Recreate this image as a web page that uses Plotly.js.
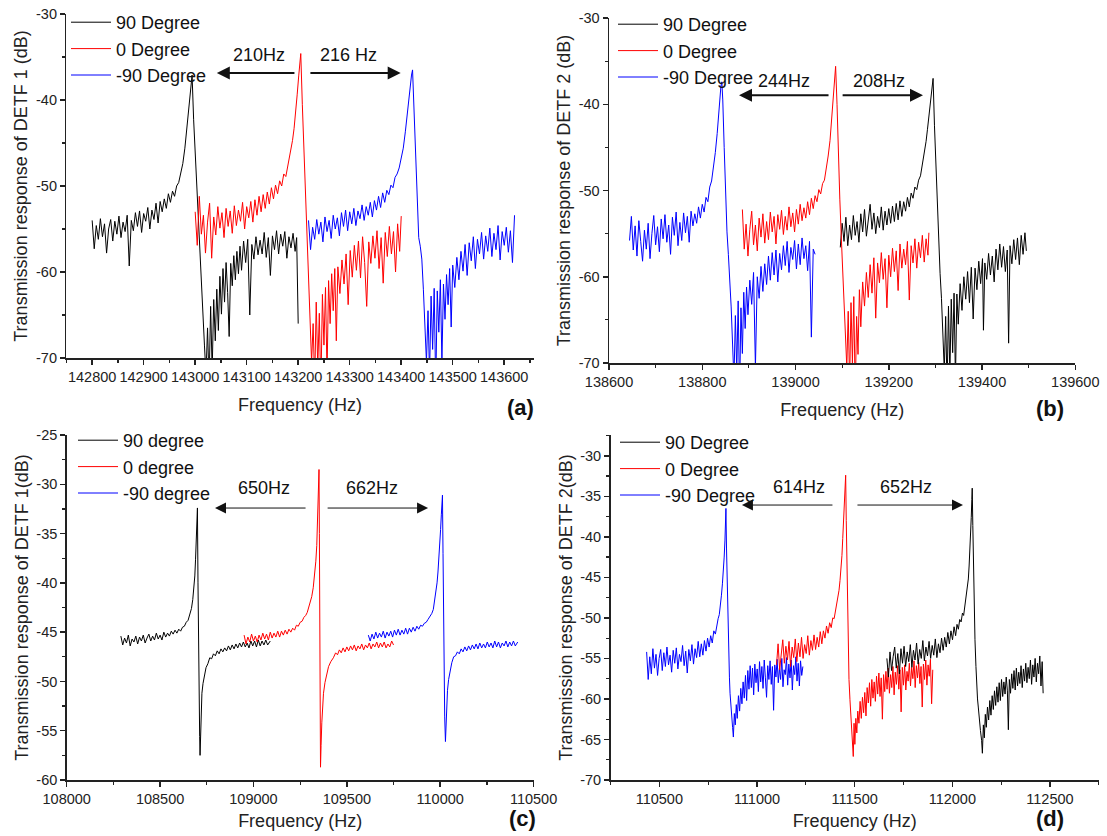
<!DOCTYPE html>
<html><head><meta charset="utf-8">
<script src="https://cdn.plot.ly/plotly-3.0.1.min.js"></script>
<style>html,body{margin:0;padding:0;background:#fff}#chart{width:1107px;height:836px}</style>
</head><body><div id="chart"></div>
<script>
// ---------- Panel (a): DETF 1, [frequency Hz, response dB] ----------
const a_p90 = [[142800,-54.0],[142804,-57.3],[142808,-54.6],[142812,-56.2],[142816,-53.8],[142820,-55.9],[142824,-54.4],[142828,-57.8],[142832,-55.0],[142836,-53.9],[142840,-56.4],[142844,-54.1],[142848,-55.6],[142852,-53.5],[142856,-56.0],[142860,-54.2],[142864,-55.3],[142868,-53.4],[142872,-59.3],[142876,-54.0],[142880,-55.2],[142884,-53.1],[142888,-54.7],[142892,-52.9],[142896,-55.4],[142900,-53.2],[142904,-54.1],[142908,-52.5],[142912,-55.0],[142916,-52.8],[142920,-53.9],[142924,-52.0],[142928,-54.3],[142932,-51.8],[142936,-53.0],[142940,-51.5],[142944,-52.6],[142948,-50.9],[142952,-51.9],[142956,-50.6],[142960,-51.2],[142964,-50.0],[142968,-49.6],[142972,-48.5],[142976,-47.4],[142980,-45.6],[142984,-43.3],[142987,-41.6],[142990,-39.6],[142992,-38.2],[142994,-37.1],[142997,-42.3],[143000,-46.3],[143003,-50.2],[143006,-54.0],[143009,-57.5],[143012,-61.0],[143015,-64.8],[143018,-68.5],[143021,-72.0],[143024,-66.5],[143027,-73.0],[143030,-64.0],[143033,-71.5],[143036,-63.2],[143039,-68.0],[143042,-62.0],[143045,-66.8],[143048,-60.5],[143051,-64.9],[143054,-59.6],[143057,-63.5],[143060,-58.9],[143063,-62.4],[143066,-67.5],[143069,-59.0],[143072,-61.6],[143075,-58.1],[143078,-60.9],[143081,-57.6],[143084,-60.2],[143087,-57.0],[143090,-59.8],[143094,-56.4],[143098,-58.9],[143102,-56.2],[143106,-65.0],[143110,-56.8],[143114,-58.5],[143118,-55.9],[143122,-58.0],[143126,-56.3],[143130,-57.9],[143134,-55.4],[143138,-58.3],[143142,-56.0],[143146,-60.4],[143150,-55.8],[143154,-57.4],[143158,-55.2],[143162,-57.9],[143166,-55.6],[143170,-57.0],[143174,-55.3],[143178,-58.4],[143182,-55.9],[143186,-57.2],[143190,-55.5],[143194,-57.6],[143197,-56.0],[143200,-66.0]];
const a_p0 = [[143000,-53.0],[143004,-56.9],[143008,-51.2],[143012,-55.6],[143016,-53.4],[143020,-57.8],[143024,-54.2],[143028,-52.0],[143032,-58.4],[143036,-53.6],[143040,-55.7],[143044,-52.4],[143048,-54.9],[143052,-53.1],[143056,-56.0],[143060,-52.6],[143064,-54.7],[143068,-52.9],[143072,-55.5],[143076,-52.3],[143080,-54.6],[143084,-52.8],[143088,-54.1],[143092,-51.9],[143096,-55.0],[143100,-52.4],[143104,-53.7],[143108,-51.8],[143112,-54.2],[143116,-51.6],[143120,-53.4],[143124,-51.2],[143128,-53.0],[143132,-51.0],[143136,-52.6],[143140,-50.7],[143144,-52.1],[143148,-50.2],[143152,-51.5],[143156,-49.9],[143160,-50.9],[143164,-49.4],[143168,-50.0],[143172,-48.6],[143176,-48.9],[143180,-47.6],[143183,-46.8],[143186,-45.6],[143189,-44.7],[143192,-43.3],[143195,-41.6],[143198,-39.4],[143201,-37.2],[143203,-35.7],[143205,-34.6],[143208,-40.5],[143211,-45.6],[143214,-50.6],[143217,-55.6],[143220,-60.5],[143223,-65.0],[143226,-70.5],[143229,-66.0],[143232,-73.0],[143235,-63.5],[143238,-71.0],[143241,-64.8],[143244,-74.0],[143247,-62.6],[143250,-68.5],[143253,-61.8],[143256,-72.0],[143259,-61.0],[143262,-66.0],[143265,-60.2],[143268,-64.5],[143271,-59.6],[143274,-68.0],[143277,-59.4],[143281,-62.5],[143285,-58.6],[143289,-61.4],[143293,-57.9],[143297,-63.8],[143301,-57.5],[143305,-60.6],[143309,-56.9],[143313,-59.8],[143317,-56.4],[143321,-60.7],[143325,-55.9],[143329,-58.9],[143333,-64.0],[143337,-56.5],[143341,-59.0],[143345,-55.8],[143349,-58.4],[143353,-55.2],[143357,-59.6],[143361,-56.0],[143365,-61.3],[143369,-55.4],[143373,-58.2],[143377,-54.7],[143381,-57.9],[143385,-55.3],[143389,-60.0],[143393,-54.4],[143397,-57.6],[143400,-53.5]];
const a_pm90 = [[143220,-54.0],[143224,-57.4],[143228,-54.8],[143232,-56.2],[143236,-53.9],[143240,-55.6],[143244,-54.2],[143248,-56.5],[143252,-53.6],[143256,-55.3],[143260,-54.0],[143264,-56.1],[143268,-53.4],[143272,-55.0],[143276,-53.7],[143280,-55.8],[143284,-53.1],[143288,-54.7],[143292,-52.8],[143296,-55.2],[143300,-53.0],[143304,-54.4],[143308,-52.6],[143312,-54.6],[143316,-52.9],[143320,-53.8],[143324,-52.2],[143328,-54.0],[143332,-52.4],[143336,-53.4],[143340,-51.9],[143344,-53.6],[143348,-51.7],[143352,-52.8],[143356,-51.2],[143360,-52.5],[143364,-50.8],[143368,-51.9],[143372,-50.5],[143376,-51.0],[143380,-49.9],[143384,-50.2],[143388,-49.0],[143392,-48.6],[143396,-47.9],[143400,-46.9],[143404,-45.6],[143408,-43.7],[143411,-42.0],[143414,-40.3],[143417,-38.5],[143420,-37.1],[143422,-36.5],[143425,-41.0],[143428,-46.2],[143431,-51.5],[143434,-56.0],[143437,-57.0],[143440,-58.5],[143443,-62.0],[143446,-66.0],[143449,-70.5],[143452,-64.5],[143455,-72.0],[143458,-62.8],[143461,-69.0],[143464,-61.9],[143467,-73.5],[143470,-62.2],[143473,-67.0],[143476,-60.9],[143479,-70.5],[143482,-61.4],[143485,-65.5],[143488,-60.3],[143491,-63.8],[143494,-59.6],[143497,-66.4],[143500,-59.2],[143504,-61.8],[143508,-58.3],[143512,-60.9],[143516,-57.6],[143520,-59.9],[143524,-56.8],[143528,-60.4],[143532,-56.6],[143536,-58.7],[143540,-55.9],[143544,-59.6],[143548,-56.2],[143552,-57.9],[143556,-55.4],[143560,-58.5],[143564,-55.8],[143568,-57.6],[143572,-54.9],[143576,-58.2],[143580,-55.5],[143584,-57.4],[143588,-54.6],[143592,-58.6],[143596,-55.3],[143600,-56.9],[143604,-54.8],[143608,-57.7],[143612,-55.2],[143616,-58.9],[143620,-53.4]];

// ---------- Panel (b): DETF 2 ----------
const b_p90 = [[139096,-56.6],[139100,-53.8],[139104,-55.9],[139108,-53.1],[139112,-56.4],[139116,-54.0],[139120,-55.7],[139124,-52.9],[139128,-55.2],[139132,-53.6],[139136,-56.0],[139140,-52.7],[139144,-54.8],[139148,-52.2],[139152,-55.3],[139156,-53.4],[139160,-51.6],[139164,-54.5],[139168,-52.6],[139172,-55.0],[139176,-53.0],[139180,-54.3],[139184,-51.9],[139188,-54.6],[139192,-52.4],[139196,-54.0],[139200,-52.1],[139204,-53.8],[139208,-51.8],[139212,-53.6],[139216,-51.5],[139220,-53.4],[139224,-51.2],[139228,-53.0],[139232,-51.3],[139236,-52.4],[139240,-50.8],[139244,-51.9],[139248,-50.3],[139252,-50.9],[139256,-49.6],[139260,-49.9],[139264,-48.8],[139268,-48.3],[139272,-47.0],[139276,-45.8],[139280,-44.3],[139283,-42.9],[139286,-41.4],[139289,-40.1],[139291,-38.9],[139293,-37.8],[139295,-37.0],[139298,-42.5],[139301,-47.2],[139304,-52.4],[139307,-56.0],[139310,-59.6],[139313,-62.5],[139316,-66.2],[139319,-70.8],[139322,-64.6],[139325,-73.0],[139328,-63.4],[139331,-71.5],[139334,-62.6],[139337,-68.8],[139340,-61.9],[139343,-72.0],[139346,-62.0],[139349,-65.5],[139353,-60.8],[139357,-63.9],[139361,-60.0],[139365,-62.6],[139369,-59.4],[139373,-63.0],[139377,-58.9],[139381,-64.9],[139385,-59.0],[139389,-61.5],[139393,-58.2],[139397,-60.8],[139401,-57.9],[139403,-66.2],[139406,-58.4],[139410,-60.3],[139414,-57.3],[139418,-59.8],[139422,-57.6],[139426,-60.6],[139430,-56.8],[139434,-59.2],[139438,-56.2],[139442,-58.9],[139446,-56.5],[139450,-59.4],[139454,-56.9],[139457,-67.7],[139460,-56.4],[139464,-58.5],[139468,-55.7],[139472,-58.0],[139476,-55.5],[139480,-58.6],[139484,-55.2],[139488,-57.4],[139492,-54.9],[139495,-57.0]];
const b_p0 = [[138886,-52.2],[138890,-56.8],[138894,-53.9],[138898,-57.6],[138902,-54.5],[138906,-52.4],[138910,-56.3],[138914,-54.0],[138918,-57.0],[138922,-53.2],[138926,-55.4],[138930,-52.7],[138934,-56.1],[138938,-53.6],[138942,-55.7],[138946,-52.5],[138950,-54.8],[138954,-53.0],[138958,-56.2],[138962,-52.8],[138966,-54.5],[138970,-52.3],[138974,-55.1],[138978,-53.0],[138982,-54.6],[138986,-51.9],[138990,-54.2],[138994,-52.6],[138998,-54.8],[139002,-52.2],[139006,-53.9],[139010,-51.6],[139014,-53.5],[139018,-52.0],[139022,-53.2],[139026,-51.3],[139030,-52.8],[139034,-50.9],[139038,-52.1],[139042,-50.6],[139046,-51.3],[139050,-49.9],[139054,-50.4],[139058,-49.2],[139062,-48.8],[139066,-47.6],[139070,-46.0],[139074,-44.2],[139077,-41.8],[139080,-39.7],[139082,-38.0],[139084,-36.6],[139086,-35.6],[139089,-40.0],[139092,-46.4],[139095,-51.0],[139098,-55.2],[139101,-59.2],[139104,-62.6],[139107,-66.3],[139110,-70.5],[139113,-64.0],[139116,-72.5],[139119,-63.0],[139122,-70.0],[139125,-62.3],[139128,-74.0],[139131,-64.6],[139134,-69.0],[139137,-61.5],[139140,-65.8],[139144,-60.6],[139148,-63.4],[139152,-59.5],[139156,-62.4],[139160,-58.6],[139164,-61.9],[139168,-57.8],[139172,-64.8],[139176,-58.4],[139180,-60.7],[139184,-57.2],[139188,-60.3],[139192,-57.9],[139196,-63.6],[139200,-57.5],[139204,-60.0],[139208,-56.7],[139212,-59.4],[139216,-57.0],[139220,-61.6],[139224,-56.2],[139228,-59.0],[139232,-56.8],[139236,-58.6],[139240,-55.9],[139244,-62.7],[139248,-56.4],[139252,-58.4],[139256,-55.6],[139260,-59.0],[139264,-56.0],[139268,-57.8],[139272,-55.2],[139276,-58.3],[139280,-55.6],[139284,-57.5],[139286,-54.9]];
const b_pm90 = [[138644,-55.8],[138648,-53.0],[138652,-56.9],[138656,-54.1],[138660,-57.6],[138664,-53.5],[138668,-55.9],[138672,-58.2],[138676,-54.6],[138680,-56.8],[138684,-53.8],[138688,-57.9],[138692,-55.0],[138696,-52.9],[138700,-56.3],[138704,-54.2],[138708,-57.1],[138712,-53.3],[138716,-55.6],[138720,-52.8],[138724,-56.0],[138728,-54.0],[138732,-57.4],[138736,-53.1],[138740,-55.2],[138744,-52.5],[138748,-56.4],[138752,-53.7],[138756,-55.8],[138760,-52.6],[138764,-54.9],[138768,-53.0],[138772,-56.0],[138776,-52.4],[138780,-54.1],[138784,-52.7],[138788,-53.8],[138792,-51.9],[138796,-53.2],[138800,-51.6],[138804,-52.5],[138808,-50.8],[138812,-51.3],[138816,-49.6],[138820,-48.9],[138824,-47.4],[138828,-45.6],[138832,-43.4],[138835,-41.2],[138838,-38.9],[138840,-37.9],[138842,-37.4],[138844,-39.5],[138847,-45.0],[138850,-50.6],[138853,-54.8],[138856,-57.4],[138859,-60.2],[138862,-63.5],[138865,-67.8],[138868,-72.0],[138871,-64.5],[138874,-71.0],[138877,-62.8],[138880,-74.0],[138883,-63.6],[138886,-68.9],[138889,-61.8],[138892,-66.0],[138895,-61.2],[138898,-64.4],[138902,-60.4],[138906,-63.2],[138910,-59.5],[138914,-70.5],[138918,-60.0],[138922,-62.5],[138926,-58.8],[138930,-61.7],[138934,-58.5],[138938,-60.9],[138942,-57.6],[138946,-60.4],[138950,-57.2],[138954,-59.8],[138958,-56.9],[138962,-60.6],[138966,-57.3],[138970,-59.2],[138974,-56.4],[138978,-58.7],[138982,-55.9],[138986,-59.5],[138990,-56.6],[138994,-58.0],[138998,-55.8],[139002,-59.1],[139006,-56.2],[139010,-58.6],[139014,-55.5],[139018,-57.9],[139022,-56.4],[139026,-59.3],[139030,-55.9],[139034,-67.0],[139038,-56.8],[139042,-57.4]];

// ---------- Panel (c): DETF 1 ----------
const c_p90 = [[108290,-45.4],[108300,-46.3],[108310,-45.6],[108320,-46.1],[108330,-45.3],[108340,-46.4],[108350,-45.7],[108360,-46.0],[108370,-45.4],[108380,-46.2],[108390,-45.5],[108400,-45.9],[108410,-45.3],[108420,-46.1],[108430,-45.6],[108440,-45.2],[108450,-45.9],[108460,-45.4],[108470,-45.8],[108480,-45.1],[108490,-45.7],[108500,-45.3],[108510,-45.8],[108520,-45.0],[108530,-45.5],[108540,-45.1],[108550,-45.4],[108560,-44.9],[108570,-45.2],[108580,-44.8],[108590,-45.1],[108600,-44.7],[108610,-44.9],[108620,-44.5],[108630,-44.4],[108640,-44.0],[108650,-43.8],[108660,-43.2],[108668,-42.6],[108675,-41.7],[108681,-40.6],[108686,-39.3],[108690,-37.6],[108694,-35.7],[108697,-34.0],[108700,-32.4],[108703,-40.0],[108706,-47.5],[108709,-52.5],[108712,-55.6],[108714,-57.5],[108717,-55.5],[108720,-52.6],[108724,-51.2],[108730,-50.2],[108738,-49.3],[108746,-48.6],[108756,-48.2],[108766,-47.6],[108776,-47.7],[108786,-47.2],[108796,-47.4],[108806,-46.9],[108816,-47.2],[108826,-46.7],[108836,-47.0],[108846,-46.6],[108856,-46.9],[108866,-46.4],[108876,-46.8],[108886,-46.3],[108896,-46.7],[108906,-46.2],[108916,-46.6],[108926,-46.1],[108936,-46.5],[108946,-46.0],[108956,-46.5],[108966,-46.1],[108976,-46.6],[108986,-45.9],[108996,-46.4],[109006,-45.9],[109016,-46.5],[109026,-45.8],[109036,-46.4],[109046,-45.9],[109056,-46.3],[109066,-45.8],[109076,-46.3],[109090,-45.9]];
const c_p0 = [[108950,-45.3],[108960,-46.2],[108970,-45.5],[108980,-46.0],[108990,-45.2],[109000,-45.9],[109010,-45.4],[109020,-46.0],[109030,-45.3],[109040,-45.8],[109050,-45.1],[109060,-45.7],[109070,-45.2],[109080,-45.8],[109090,-45.0],[109100,-45.6],[109110,-45.1],[109120,-45.5],[109130,-44.9],[109140,-45.5],[109150,-44.9],[109160,-45.3],[109170,-44.8],[109180,-45.2],[109190,-44.7],[109200,-45.0],[109210,-44.6],[109220,-44.8],[109230,-44.3],[109240,-44.4],[109250,-44.0],[109260,-43.9],[109270,-43.5],[109280,-43.3],[109288,-43.0],[109296,-42.5],[109304,-42.0],[109312,-41.4],[109320,-40.5],[109328,-39.3],[109334,-37.8],[109339,-36.2],[109343,-34.2],[109346,-32.3],[109349,-30.2],[109351,-28.5],[109353,-35.0],[109355,-42.0],[109357,-50.0],[109359,-58.7],[109362,-56.5],[109366,-54.2],[109370,-52.5],[109375,-51.2],[109383,-50.1],[109392,-49.2],[109402,-48.5],[109414,-48.0],[109428,-47.6],[109440,-47.1],[109450,-47.3],[109460,-46.8],[109470,-47.1],[109480,-46.6],[109490,-47.0],[109500,-46.5],[109510,-46.9],[109520,-46.4],[109530,-46.8],[109540,-46.3],[109550,-46.9],[109560,-46.4],[109570,-46.7],[109580,-46.2],[109590,-46.8],[109600,-46.3],[109610,-46.6],[109620,-46.1],[109630,-46.7],[109640,-46.2],[109650,-46.5],[109660,-46.0],[109670,-46.6],[109680,-46.1],[109690,-46.5],[109700,-46.0],[109710,-46.6],[109720,-46.2],[109730,-46.5],[109740,-45.9],[109750,-46.3]];
const c_pm90 = [[109615,-45.3],[109625,-45.9],[109635,-45.2],[109645,-45.7],[109655,-45.0],[109665,-45.6],[109675,-45.1],[109685,-45.5],[109695,-44.9],[109705,-45.6],[109715,-45.0],[109725,-45.4],[109735,-44.9],[109745,-45.5],[109755,-44.8],[109765,-45.3],[109775,-44.7],[109785,-45.3],[109795,-44.8],[109805,-45.2],[109815,-44.6],[109825,-45.2],[109835,-44.6],[109845,-45.0],[109855,-44.5],[109865,-44.9],[109875,-44.4],[109885,-44.7],[109895,-44.3],[109905,-44.4],[109915,-44.1],[109925,-44.0],[109935,-43.7],[109945,-43.4],[109955,-43.1],[109963,-42.7],[109970,-41.9],[109977,-41.0],[109983,-40.0],[109988,-38.9],[109993,-37.6],[109998,-36.2],[110002,-34.6],[110006,-33.1],[110009,-32.0],[110012,-31.1],[110015,-37.0],[110018,-44.5],[110021,-50.0],[110024,-53.6],[110028,-56.1],[110031,-54.0],[110035,-52.0],[110039,-50.9],[110045,-49.8],[110053,-48.8],[110062,-48.1],[110072,-47.5],[110082,-47.4],[110092,-47.0],[110102,-47.2],[110112,-46.7],[110122,-47.0],[110132,-46.5],[110142,-46.9],[110152,-46.4],[110162,-46.8],[110172,-46.3],[110182,-46.7],[110192,-46.2],[110202,-46.7],[110212,-46.1],[110222,-46.6],[110232,-46.2],[110242,-46.6],[110252,-46.0],[110262,-46.5],[110272,-46.1],[110282,-46.6],[110292,-45.9],[110302,-46.5],[110312,-46.0],[110322,-46.6],[110332,-46.1],[110342,-46.4],[110352,-45.9],[110362,-46.5],[110372,-46.0],[110382,-46.4],[110392,-45.9],[110402,-46.4],[110415,-46.0]];

// ---------- Panel (d): DETF 2 ----------
const d_p90 = [[111665,-55.0],[111673,-57.3],[111681,-54.2],[111689,-56.5],[111697,-54.8],[111705,-53.6],[111713,-56.2],[111721,-54.4],[111729,-56.9],[111737,-53.8],[111745,-55.6],[111753,-53.5],[111761,-56.0],[111769,-54.2],[111777,-55.4],[111785,-53.3],[111793,-56.1],[111801,-54.0],[111809,-55.2],[111817,-53.1],[111825,-55.7],[111833,-53.9],[111841,-55.0],[111849,-52.8],[111857,-55.3],[111865,-53.6],[111873,-54.7],[111881,-52.9],[111889,-55.0],[111897,-53.4],[111905,-54.6],[111913,-52.6],[111921,-54.9],[111929,-53.2],[111937,-54.3],[111945,-52.5],[111953,-54.0],[111961,-52.4],[111969,-53.6],[111977,-51.8],[111985,-53.2],[111993,-51.6],[112001,-52.7],[112009,-51.1],[112017,-52.2],[112024,-50.8],[112031,-51.4],[112038,-50.2],[112045,-50.5],[112052,-49.4],[112058,-49.7],[112064,-48.6],[112069,-48.0],[112074,-47.2],[112078,-46.4],[112082,-45.2],[112086,-43.6],[112090,-41.8],[112094,-39.9],[112097,-37.6],[112100,-35.4],[112102,-34.0],[112105,-38.6],[112108,-43.0],[112112,-48.2],[112116,-52.7],[112121,-56.0],[112125,-58.5],[112129,-60.0],[112133,-61.0],[112138,-62.8],[112144,-63.9],[112150,-65.1],[112154,-66.7],[112159,-63.2],[112164,-64.8],[112169,-61.9],[112174,-63.5],[112180,-61.0],[112186,-62.6],[112192,-60.2],[112198,-62.0],[112204,-59.6],[112210,-61.3],[112216,-59.0],[112222,-60.8],[112228,-58.5],[112234,-60.4],[112240,-58.0],[112246,-60.2],[112252,-57.6],[112258,-59.7],[112264,-57.9],[112270,-59.4],[112276,-57.3],[112282,-59.0],[112287,-63.8],[112292,-57.6],[112298,-59.3],[112304,-56.9],[112310,-58.7],[112316,-56.5],[112322,-58.9],[112328,-56.2],[112334,-58.4],[112340,-56.7],[112346,-58.1],[112352,-55.9],[112358,-58.6],[112364,-56.3],[112370,-57.8],[112376,-55.6],[112382,-58.0],[112388,-56.1],[112394,-57.5],[112400,-55.2],[112406,-58.2],[112412,-55.8],[112418,-57.3],[112424,-55.0],[112430,-57.9],[112436,-55.6],[112442,-56.9],[112448,-54.7],[112454,-58.4],[112460,-55.4],[112465,-59.3]];
const d_p0 = [[111100,-55.8],[111108,-53.2],[111116,-56.4],[111124,-54.0],[111132,-52.7],[111140,-55.6],[111148,-53.5],[111156,-55.2],[111164,-52.9],[111172,-56.0],[111180,-53.6],[111188,-54.9],[111196,-52.6],[111204,-55.4],[111212,-53.1],[111220,-54.8],[111228,-52.4],[111236,-55.0],[111244,-53.3],[111252,-54.4],[111260,-52.2],[111268,-54.6],[111276,-52.8],[111284,-54.0],[111292,-52.1],[111300,-53.9],[111308,-52.4],[111316,-53.6],[111324,-51.7],[111332,-53.2],[111340,-51.6],[111348,-52.5],[111356,-51.0],[111364,-51.9],[111372,-50.6],[111380,-51.2],[111388,-50.0],[111395,-50.1],[111402,-49.1],[111408,-48.6],[111414,-47.6],[111420,-46.6],[111425,-45.4],[111430,-44.0],[111435,-42.3],[111439,-40.2],[111443,-37.6],[111446,-35.3],[111449,-33.6],[111452,-32.7],[111454,-32.4],[111457,-38.0],[111461,-44.5],[111464,-50.0],[111467,-54.6],[111471,-57.6],[111476,-60.1],[111481,-62.0],[111485,-63.4],[111489,-65.5],[111493,-67.1],[111497,-63.0],[111501,-65.6],[111506,-62.4],[111511,-64.2],[111516,-61.5],[111522,-63.0],[111528,-60.3],[111534,-62.4],[111540,-59.8],[111546,-61.7],[111552,-59.2],[111558,-62.1],[111564,-58.6],[111570,-60.5],[111576,-58.0],[111582,-60.9],[111588,-57.6],[111594,-59.9],[111600,-57.9],[111606,-60.3],[111612,-57.2],[111618,-59.4],[111624,-56.8],[111630,-59.7],[111636,-57.4],[111642,-62.5],[111648,-57.0],[111654,-59.1],[111660,-56.6],[111666,-58.8],[111672,-56.2],[111678,-59.3],[111684,-57.0],[111690,-58.6],[111696,-56.0],[111702,-59.5],[111708,-56.7],[111714,-58.2],[111720,-55.9],[111726,-58.8],[111732,-56.4],[111738,-61.6],[111744,-56.1],[111750,-58.3],[111756,-55.8],[111762,-58.9],[111768,-56.6],[111774,-57.8],[111780,-55.6],[111786,-58.4],[111792,-56.1],[111798,-57.5],[111804,-55.3],[111810,-58.6],[111816,-55.9],[111822,-57.4],[111828,-55.5],[111834,-58.1],[111840,-56.0],[111846,-61.0],[111852,-55.7],[111858,-57.6],[111864,-55.2],[111870,-58.3],[111876,-55.8],[111882,-57.2],[111888,-55.1],[111894,-60.6],[111900,-56.4]];
const d_pm90 = [[110435,-54.2],[110443,-57.6],[110451,-54.8],[110459,-56.9],[110467,-53.8],[110475,-56.2],[110483,-54.5],[110491,-57.1],[110499,-55.0],[110507,-53.9],[110515,-56.5],[110523,-54.3],[110531,-56.0],[110539,-53.6],[110547,-55.8],[110555,-54.6],[110563,-56.7],[110571,-54.0],[110579,-55.6],[110587,-53.7],[110595,-56.3],[110603,-54.5],[110611,-55.4],[110619,-53.4],[110627,-55.9],[110635,-54.1],[110643,-56.8],[110651,-53.9],[110659,-55.3],[110667,-53.3],[110675,-55.7],[110683,-53.8],[110691,-54.9],[110699,-52.9],[110707,-54.8],[110715,-53.2],[110723,-54.6],[110731,-52.8],[110739,-54.1],[110747,-52.5],[110755,-53.6],[110763,-52.2],[110771,-53.1],[110779,-51.6],[110787,-52.0],[110795,-50.6],[110801,-50.1],[110807,-49.6],[110813,-48.6],[110818,-47.2],[110823,-45.8],[110828,-44.3],[110832,-42.5],[110836,-40.4],[110839,-38.3],[110841,-36.5],[110844,-41.5],[110848,-46.6],[110852,-51.2],[110855,-54.4],[110859,-57.4],[110862,-59.3],[110866,-61.0],[110870,-62.2],[110875,-63.5],[110879,-64.7],[110884,-61.8],[110889,-63.2],[110894,-60.7],[110899,-62.4],[110905,-59.6],[110911,-61.5],[110917,-58.7],[110923,-60.6],[110929,-57.9],[110935,-59.9],[110941,-57.1],[110947,-60.2],[110953,-56.5],[110959,-58.8],[110965,-55.9],[110971,-58.6],[110977,-56.2],[110983,-59.5],[110989,-55.7],[110995,-58.0],[111001,-56.3],[111007,-59.1],[111013,-55.4],[111019,-57.9],[111025,-56.0],[111031,-58.7],[111037,-55.2],[111043,-57.4],[111049,-59.8],[111055,-55.9],[111061,-57.6],[111067,-55.3],[111073,-58.2],[111079,-56.0],[111085,-61.4],[111091,-55.8],[111097,-57.3],[111103,-55.1],[111109,-58.0],[111115,-56.2],[111121,-57.6],[111127,-55.0],[111133,-58.5],[111139,-56.4],[111145,-57.0],[111151,-54.9],[111157,-58.3],[111163,-55.7],[111169,-57.4],[111175,-55.2],[111181,-58.9],[111187,-55.9],[111193,-57.0],[111199,-54.8],[111205,-57.8],[111211,-55.6],[111217,-58.4],[111223,-55.3],[111229,-57.1],[111235,-56.0]];

// ---------- Tick labels ----------
const a_xticks = [142800,142900,143000,143100,143200,143300,143400,143500,143600];
const a_xlabels = ['142800','142900','143000','143100','143200','143300','143400','143500','143600'];
const ab_yticks = [-70,-60,-50,-40,-30];
const ab_ylabels = ['-70','-60','-50','-40','-30'];
const b_xticks = [138600,138800,139000,139200,139400,139600];
const b_xlabels = ['138600','138800','139000','139200','139400','139600'];
const c_xticks = [108000,108500,109000,109500,110000,110500];
const c_xlabels = ['108000','108500','109000','109500','110000','110500'];
const c_yticks = [-60,-55,-50,-45,-40,-35,-30,-25];
const c_ylabels = ['-60','-55','-50','-45','-40','-35','-30','-25'];
const d_xticks = [110500,111000,111500,112000,112500];
const d_xlabels = ['110500','111000','111500','112000','112500'];
const d_yticks = [-70,-65,-60,-55,-50,-45,-40,-35,-30];
const d_ylabels = ['-70','-65','-60','-55','-50','-45','-40','-35','-30'];

// ---------- Legend names & colours ----------
const namesUpper = ['90 Degree','0 Degree','-90 Degree'];
const namesLower = ['90 degree','0 degree','-90 degree'];
const colors = ['#000000','#ff0000','#0000ff'];

const FONT = 'Arial, "Liberation Sans", sans-serif';
const W = 1107, H = 836;

function tr(pairs, name, color, xa, ya, legend, rank) {
  return {x: pairs.map(p => p[0]), y: pairs.map(p => p[1]), type: 'scatter', mode: 'lines',
    name: name, line: {color: color, width: 1}, xaxis: xa, yaxis: ya, legend: legend,
    legendrank: rank, hoverinfo: 'skip'};
}

const data = [
  tr(a_p90, namesUpper[0], colors[0], 'x', 'y', 'legend', 1),
  tr(a_p0, namesUpper[1], colors[1], 'x', 'y', 'legend', 2),
  tr(a_pm90, namesUpper[2], colors[2], 'x', 'y', 'legend', 3),
  tr(b_p90, namesUpper[0], colors[0], 'x2', 'y2', 'legend2', 1),
  tr(b_p0, namesUpper[1], colors[1], 'x2', 'y2', 'legend2', 2),
  tr(b_pm90, namesUpper[2], colors[2], 'x2', 'y2', 'legend2', 3),
  tr(c_p90, namesLower[0], colors[0], 'x3', 'y3', 'legend3', 1),
  tr(c_p0, namesLower[1], colors[1], 'x3', 'y3', 'legend3', 2),
  tr(c_pm90, namesLower[2], colors[2], 'x3', 'y3', 'legend3', 3),
  tr(d_pm90, namesUpper[2], colors[2], 'x4', 'y4', 'legend4', 3),
  tr(d_p0, namesUpper[1], colors[1], 'x4', 'y4', 'legend4', 2),
  tr(d_p90, namesUpper[0], colors[0], 'x4', 'y4', 'legend4', 1)
];

function axis(domain, range, tv, tt, minorDtick, title, anchor, standoff) {
  return {domain: domain, range: range, anchor: anchor, tickmode: 'array', tickvals: tv, ticktext: tt,
    showgrid: false, zeroline: false, showline: true, linecolor: '#222', linewidth: 1.5,
    ticks: 'outside', ticklen: 5, tickwidth: 1.5, tickcolor: '#222',
    minor: {dtick: minorDtick, ticks: 'outside', ticklen: 3, tickwidth: 1.2, tickcolor: '#222', showgrid: false},
    tickfont: {family: FONT, size: 14.5, color: '#222'},
    title: {text: title, font: {family: FONT, size: 18, color: '#222'}, standoff: standoff}};
}
const px = v => v / W, py = v => 1 - v / H;

function legendCfg(left, top) {
  return {x: px(left), y: py(top), xanchor: 'left', yanchor: 'top', bgcolor: 'rgba(0,0,0,0)',
    borderwidth: 0, itemwidth: 40, font: {family: FONT, size: 18, color: '#111'}};
}

function arrow(xr, yr, head, tail, yv, w, size) {
  return {xref: xr, yref: yr, axref: xr, ayref: yr, x: head, y: yv, ax: tail, ay: yv, text: '',
    showarrow: true, arrowhead: 2, arrowsize: size, arrowwidth: w, arrowcolor: '#111'};
}
function label(xr, yr, x, y, text) {
  return {xref: xr, yref: yr, x: x, y: y, text: text, showarrow: false,
    font: {family: FONT, size: 18, color: '#111'}, xanchor: 'center', yanchor: 'middle'};
}
function panelTag(x, y, text) {
  return {xref: 'paper', yref: 'paper', x: px(x), y: py(y), text: '<b>' + text + '</b>', showarrow: false,
    font: {family: FONT, size: 22, color: '#111'}, xanchor: 'center', yanchor: 'middle'};
}

const layout = {
  width: W, height: H, margin: {l: 0, r: 0, t: 0, b: 0},
  paper_bgcolor: '#fff', plot_bgcolor: '#fff', showlegend: true,
  font: {family: FONT, color: '#222'},
  xaxis: axis([px(66.4), px(533.6)], [142750, 143657], a_xticks, a_xlabels, 50, 'Frequency (Hz)', 'y', 14),
  yaxis: axis([py(358), py(14)], [-70, -30], ab_yticks, ab_ylabels, 5, 'Transmission response of DETF 1 (dB)', 'x', 3),
  xaxis2: axis([px(609), px(1075.3)], [138600, 139600], b_xticks, b_xlabels, 100, 'Frequency (Hz)', 'y2', 14),
  yaxis2: axis([py(363), py(18)], [-70, -30], ab_yticks, ab_ylabels, 5, 'Transmission response of DETF 2 (dB)', 'x2', 3),
  xaxis3: axis([px(66.7), px(533.6)], [108000, 110500], c_xticks, c_xlabels, 250, 'Frequency (Hz)', 'y3', 8),
  yaxis3: axis([py(780), py(435)], [-60, -25], c_yticks, c_ylabels, 2.5, 'Transmission response of DETF 1(dB)', 'x3', 3),
  xaxis4: axis([px(610.5), px(1098.8)], [110250, 112750], d_xticks, d_xlabels, 250, 'Frequency (Hz)', 'y4', 8),
  yaxis4: axis([py(780), py(435)], [-70, -27.44], d_yticks, d_ylabels, 2.5, 'Transmission response of DETF 2(dB)', 'x4', 3),
  legend: legendCfg(66, 4),
  legend2: legendCfg(613, 6),
  legend3: legendCfg(73, 422),
  legend4: legendCfg(615, 424),
  annotations: [
    arrow('x', 'y', 143042, 143195.6, -36.86, 2, 1.3),
    arrow('x', 'y', 143399, 143220.8, -36.86, 2, 1.3),
    label('x', 'y', 143123.8, -34.77, '210Hz'),
    label('x', 'y', 143298, -34.77, '216 Hz'),
    arrow('x2', 'y2', 138878.8, 139074, -38.95, 2, 1.3),
    arrow('x2', 'y2', 139273.4, 139097.8, -38.95, 2, 1.3),
    label('x2', 'y2', 138975, -37.3, '244Hz'),
    label('x2', 'y2', 139179, -37.3, '208Hz'),
    arrow('x3', 'y3', 108794, 109287, -32.41, 1, 2.2),
    arrow('x3', 'y3', 109935, 109389, -32.41, 1, 2.2),
    label('x3', 'y3', 109057, -30.38, '650Hz'),
    label('x3', 'y3', 109635, -30.38, '662Hz'),
    arrow('x4', 'y4', 110923, 111394, -36.08, 1, 2.2),
    arrow('x4', 'y4', 112054.7, 111506.6, -36.08, 1, 2.2),
    label('x4', 'y4', 111215, -33.86, '614Hz'),
    label('x4', 'y4', 111763, -33.86, '652Hz'),
    panelTag(520, 407, '(a)'),
    panelTag(1050, 408, '(b)'),
    panelTag(522, 818, '(c)'),
    panelTag(1050, 818, '(d)')
  ]
};

Plotly.newPlot('chart', data, layout, {displayModeBar: false, staticPlot: true});
</script>
</body></html>
